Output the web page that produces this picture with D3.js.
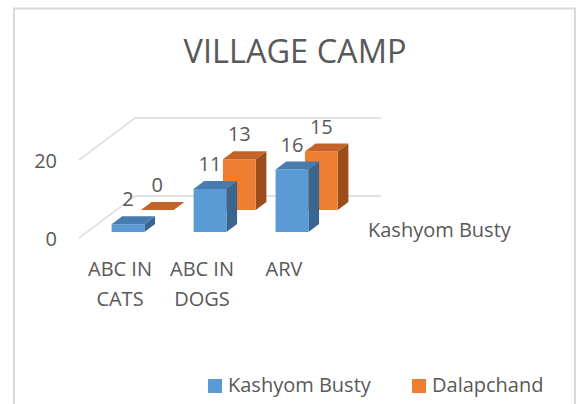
<!DOCTYPE html>
<html>
<head>
    <script src="https://d3js.org/d3.v7.min.js"></script>
    <style>
        body { margin: 0; background: #fff; }
        text { font-family: "Open Sans", sans-serif; fill: #595959; }
    </style>
</head>
<body>
    <script>
        // Data
        var categories = ["ABC IN CATS", "ABC IN DOGS", "ARV"];
        var seriesNames = ["Kashyom Busty", "Dalapchand"];
        var kashyomBusty = [2, 11, 16];
        var dalapchand = [0, 13, 15];
        var yTicks = [0, 20];

        var values = [kashyomBusty, dalapchand];

        // colours: front, top, side
        var faceColors = [
            { front: "#5b9bd5", top: "#477cb0", side: "#39658f" },
            { front: "#ed7d31", top: "#c3632a", side: "#9c4d1c" }
        ];

        var width = 581, height = 404;

        var svg = d3.select("body")
            .append("svg")
            .attr("width", width)
            .attr("height", height);

        // chart border
        svg.append("rect")
            .attr("x", 14).attr("y", 8.5)
            .attr("width", 561).attr("height", 420)
            .attr("fill", "none")
            .attr("stroke", "#d9d9d9")
            .attr("stroke-width", 2);

        svg.append("text")
            .attr("x", 295).attr("y", 63)
            .attr("text-anchor", "middle")
            .style("font-size", "32.5px")
            .text("VILLAGE CAMP");

        // front plane scales
        var x = d3.scaleBand().domain(categories).range([79, 325]);
        var y = d3.scaleLinear().domain([0, 20]).range([238, 160]);
        // depth (measured as vertical pixel lift), each series one row
        var depth = 42;
        var z = d3.scaleBand().domain(seriesNames).range([0, depth])
            .paddingInner(0.636).paddingOuter(0.273);
        var slant = 56 / 42;

        function pt(px, py, dz) {
            return [px + dz * slant, py - dz];
        }

        // gridlines on side and back wall
        var grid = svg.append("g")
            .attr("stroke", "#d9d9d9")
            .attr("stroke-width", 1.5)
            .attr("fill", "none");
        yTicks.forEach(function (v) {
            var a = pt(x.range()[0], y(v), 0);
            var b = pt(x.range()[0], y(v), depth);
            var c = pt(x.range()[1], y(v), depth);
            grid.append("path").attr("d", d3.line()([a, b, c]));
        });

        svg.selectAll(".ytick")
            .data(yTicks)
            .enter()
            .append("text")
            .attr("class", "ytick")
            .attr("x", 57)
            .attr("y", function (d) { return y(d) + 7.5; })
            .attr("text-anchor", "end")
            .style("font-size", "20px")
            .text(function (d) { return d; });

        // bars: back series first
        var barW = x.bandwidth() * 0.4;
        var line = d3.line();
        for (var s = seriesNames.length - 1; s >= 0; s--) {
            var z0 = z(seriesNames[s]), z1 = z0 + z.bandwidth();
            var col = faceColors[s];
            var g = svg.append("g");
            values[s].forEach(function (v, i) {
                var x0 = x(categories[i]) + (x.bandwidth() - barW) / 2;
                var x1 = x0 + barW;
                var yt = y(v), yb = y(0);
                if (v > 0) {
                    g.append("path")
                        .attr("d", line([pt(x1, yt, z0), pt(x1, yt, z1), pt(x1, yb, z1), pt(x1, yb, z0)]) + "Z")
                        .attr("fill", col.side);
                    g.append("path")
                        .attr("d", line([pt(x0, yt, z0), pt(x1, yt, z0), pt(x1, yb, z0), pt(x0, yb, z0)]) + "Z")
                        .attr("fill", col.front);
                }
                g.append("path")
                    .attr("d", line([pt(x0, yt, z0), pt(x1, yt, z0), pt(x1, yt, z1), pt(x0, yt, z1)]) + "Z")
                    .attr("fill", col.top);
                var lp = pt((x0 + x1) / 2, yt, z1);
                g.append("text")
                    .attr("x", (x0 + x1) / 2 + z0 * slant)
                    .attr("y", lp[1] - 10)
                    .attr("text-anchor", "middle")
                    .style("font-size", "20px")
                    .text(v);
            });
        }

        // category labels, wrapped after two words
        svg.selectAll(".cat")
            .data(categories)
            .enter()
            .append("text")
            .attr("class", "cat")
            .attr("text-anchor", "middle")
            .style("font-size", "20px")
            .each(function (d) {
                var words = d.split(" ");
                var lines = words.length > 2 ? [words.slice(0, 2).join(" "), words.slice(2).join(" ")] : [d];
                var t = d3.select(this);
                lines.forEach(function (l, k) {
                    t.append("tspan")
                        .attr("x", x(d) + x.bandwidth() / 2)
                        .attr("y", 276 + k * 30)
                        .text(l);
                });
            });

        // depth axis label (only the front series is shown)
        svg.append("text")
            .attr("x", 368).attr("y", 237)
            .style("font-size", "20px")
            .text(seriesNames[0]);

        // legend
        var legendX = [208, 412];
        var legend = svg.selectAll(".legend")
            .data(seriesNames)
            .enter()
            .append("g")
            .attr("class", "legend")
            .attr("transform", function (d, i) { return "translate(" + legendX[i] + ",379)"; });
        legend.append("rect")
            .attr("width", 14).attr("height", 14)
            .attr("fill", function (d, i) { return faceColors[i].front; });
        legend.append("text")
            .attr("x", 20).attr("y", 13)
            .style("font-size", "20px")
            .text(function (d) { return d; });
    </script>
</body>
</html>
